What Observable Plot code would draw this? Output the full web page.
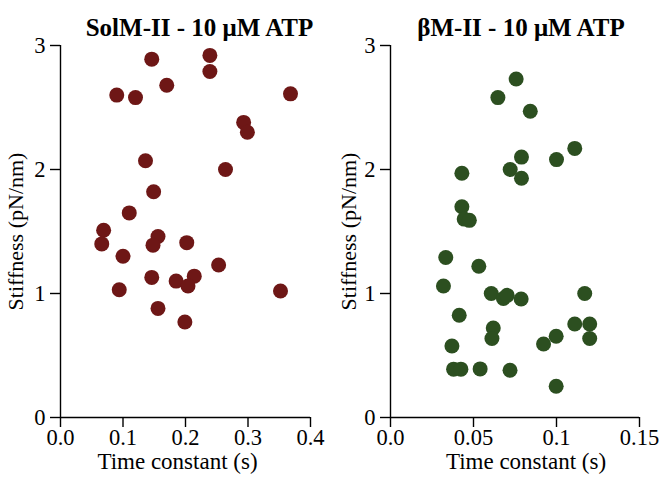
<!DOCTYPE html>
<html>
<head>
<meta charset="utf-8">
<script src="https://cdn.jsdelivr.net/npm/d3@7"></script>
<script src="https://cdn.jsdelivr.net/npm/@observablehq/plot@0.6"></script>
<style>
  html, body { margin: 0; padding: 0; background: #fff; }
  #wrap { display: flex; width: 666px; height: 485px; }
</style>
</head>
<body>
<div id="wrap"></div>
<script>
// ---- data ----
const solTitle = "SolM-II - 10 \u03bcM ATP";
const betaTitle = "\u03b2M-II - 10 \u03bcM ATP";
const xLabel = "Time constant (s)";
const yLabel = "Stiffness (pN/nm)";

const solX = [0.146,0.239,0.239,0.170,0.090,0.120,0.368,0.293,0.299,0.136,0.264,0.149,0.110,0.069,0.156,0.066,0.148,0.202,0.100,0.146,0.185,0.214,0.204,0.253,0.094,0.352,0.156,0.199];
const solY = [2.89,2.92,2.79,2.68,2.60,2.58,2.61,2.38,2.30,2.07,2.00,1.82,1.65,1.51,1.46,1.40,1.39,1.41,1.30,1.13,1.10,1.14,1.06,1.23,1.03,1.02,0.88,0.77];

const betaX = [0.0757,0.0647,0.0842,0.111,0.0789,0.100,0.0721,0.0789,0.043,0.043,0.0444,0.0475,0.0333,0.0532,0.0319,0.0607,0.0680,0.0703,0.0787,0.117,0.0414,0.0619,0.0611,0.111,0.120,0.120,0.0998,0.0922,0.037,0.038,0.0424,0.054,0.072,0.0998];
const betaY = [2.73,2.58,2.47,2.17,2.10,2.08,2.00,1.93,1.97,1.70,1.60,1.59,1.29,1.22,1.06,1.00,0.96,0.985,0.956,1.00,0.825,0.722,0.637,0.754,0.754,0.637,0.655,0.593,0.577,0.39,0.39,0.392,0.381,0.252];

const yTicks = [0, 1, 2, 3];
const yTickLabels = ["0", "1", "2", "3"];
const solXTicks = [0, 0.1, 0.2, 0.3, 0.4];
const solXTickLabels = ["0.0", "0.1", "0.2", "0.3", "0.4"];
const betaXTicks = [0, 0.05, 0.1, 0.15];
const betaXTickLabels = ["0.0", "0.05", "0.1", "0.15"];

const FONT = "'Liberation Serif', 'Times New Roman', serif";

function panel({xs, ys, color, title, xDomain, xTicks, xTickLabels, marginLeft, marginRight, titleDx, xLabelDx, yLabelDx}) {
  const data = xs.map((x, i) => ({x, y: ys[i]}));
  return Plot.plot({
    width: 333,
    height: 485,
    marginLeft, marginRight,
    marginTop: 45,
    marginBottom: 68,
    style: {fontFamily: FONT, fontSize: "22px", color: "#000", background: "#fff"},
    x: {domain: xDomain},
    y: {domain: [0, 3]},
    marks: [
      Plot.ruleX([0], {y1: 0, y2: 3, stroke: "#000", strokeWidth: 1.4}),
      Plot.ruleY([0], {x1: xDomain[0], x2: xDomain[1], stroke: "#000", strokeWidth: 1.4}),
      Plot.axisY({ticks: yTicks, tickFormat: (d) => yTickLabels[yTicks.indexOf(d)], tickSize: 10, tickPadding: 5, label: null, fontSize: 22.5, strokeWidth: 1.4}),
      Plot.axisX({ticks: xTicks, tickFormat: (d) => xTickLabels[xTicks.indexOf(d)], tickSize: 10, tickPadding: 2, label: null, fontSize: 22.5, strokeWidth: 1.4}),
      Plot.dot(data, {x: "x", y: "y", r: 7.5, fill: color, stroke: "none"}),
      Plot.text([title], {frameAnchor: "top", dy: -27, dx: titleDx, fontSize: 25, fontWeight: "bold", fill: "#000"}),
      Plot.text([xLabel], {frameAnchor: "bottom", dy: 51, dx: xLabelDx, fontSize: 23, fill: "#000"}),
      Plot.text([yLabel], {frameAnchor: "left", textAnchor: "middle", dx: yLabelDx, rotate: -90, fontSize: 22, fill: "#000"})
    ]
  });
}

const wrap = document.getElementById("wrap");
wrap.append(panel({
  xs: solX, ys: solY, color: "#6e1716", title: solTitle,
  xDomain: [0, 0.4], xTicks: solXTicks, xTickLabels: solXTickLabels,
  marginLeft: 60, marginRight: 23, titleDx: 14, xLabelDx: -8, yLabelDx: -45
}));
wrap.append(panel({
  xs: betaX, ys: betaY, color: "#2c4f20", title: betaTitle,
  xDomain: [0, 0.15], xTicks: betaXTicks, xTickLabels: betaXTickLabels,
  marginLeft: 57, marginRight: 27, titleDx: 6, xLabelDx: 11, yLabelDx: -42
}));
</script>
</body>
</html>
